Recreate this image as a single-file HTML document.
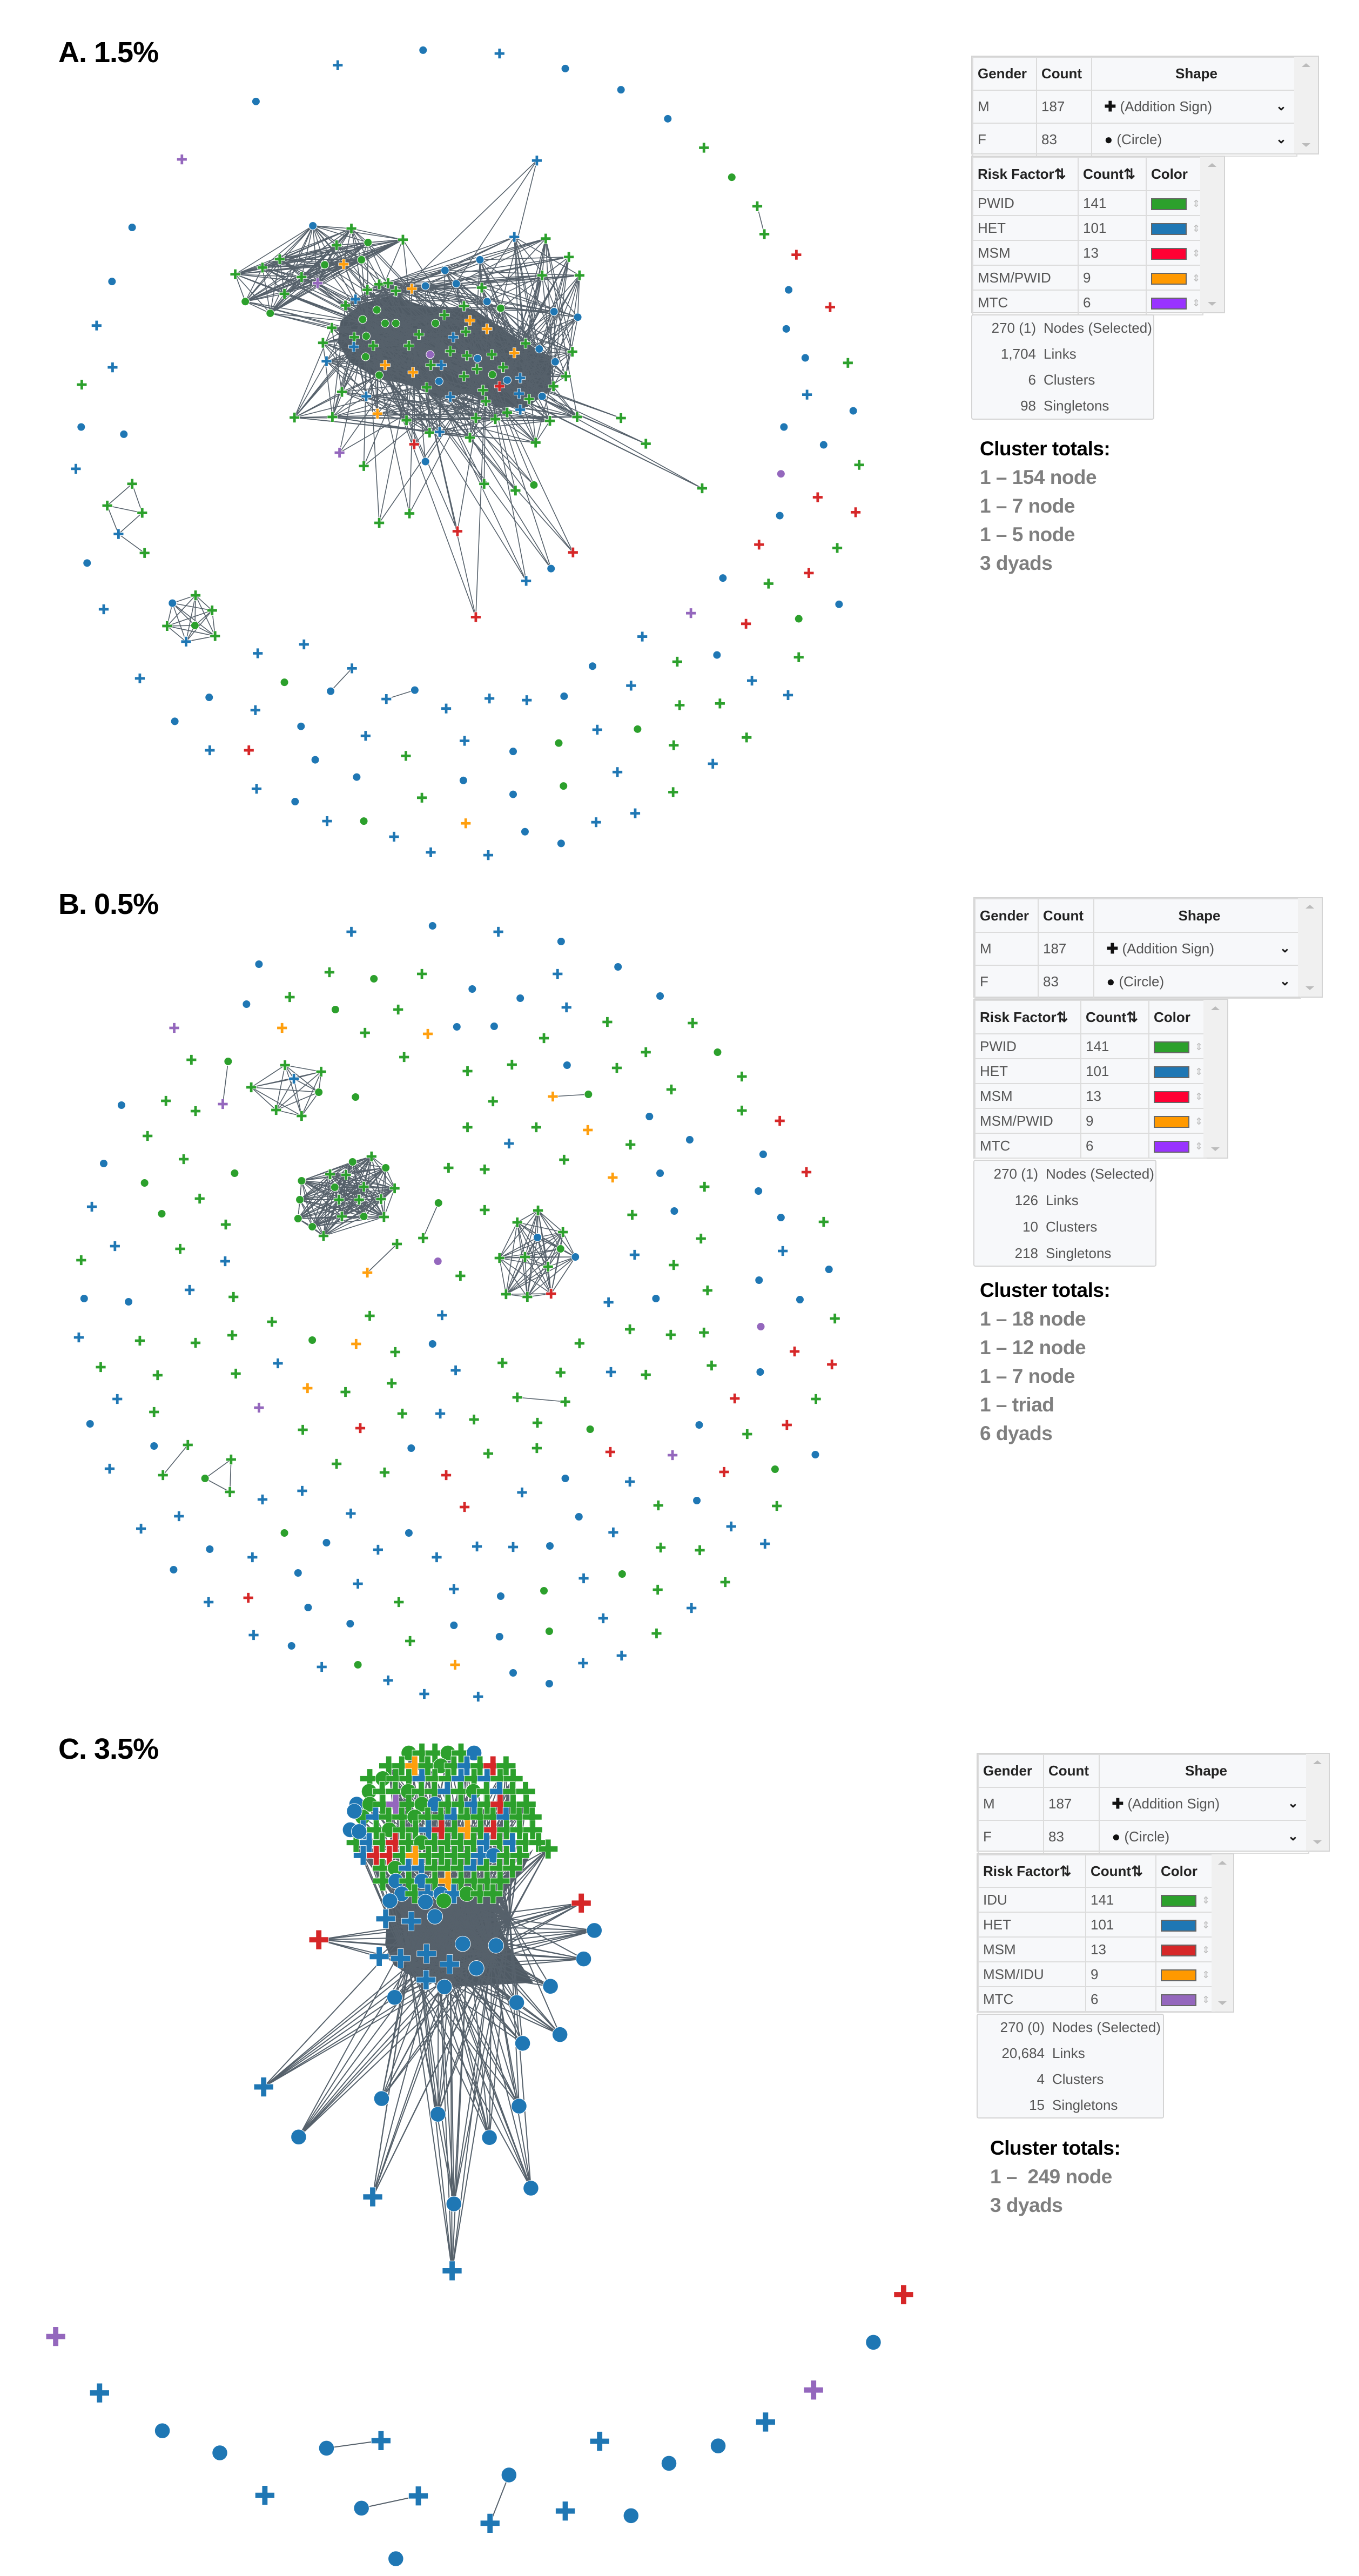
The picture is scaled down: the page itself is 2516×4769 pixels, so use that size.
<!DOCTYPE html>
<html><head><meta charset="utf-8"><title>HIV transmission network thresholds</title>
<style>
html,body{margin:0;padding:0;background:#fff;}
body{width:2516px;height:4769px;position:relative;overflow:hidden;font-family:"Liberation Sans",sans-serif;}
#net{position:absolute;left:0;top:0;}
.title{position:absolute;left:108px;font-weight:bold;font-size:54px;color:#000;letter-spacing:-1px;}
.box{position:absolute;background:#f7f8fa;border:2px solid #d4d4d4;box-sizing:border-box;}
.box table{border-collapse:collapse;table-layout:fixed;position:absolute;left:0;top:0;}
.box td,.box th{border:2px solid #dcdcdc;font-size:26px;color:#555;padding:0 0 0 8px;white-space:nowrap;overflow:hidden;text-align:left;}
.box th{color:#222;font-weight:bold;}
.scroll{position:absolute;right:0;top:0;bottom:0;background:#f0f0f0;}
.scroll .up,.scroll .dn{position:absolute;left:50%;margin-left:-8px;width:0;height:0;border-left:8px solid transparent;border-right:8px solid transparent;}
.scroll .up{top:12px;border-bottom:7px solid #bbb;}
.scroll .dn{bottom:12px;border-top:7px solid #bbb;}
.sw{display:inline-block;width:62px;height:18px;border:2px solid #666;vertical-align:middle;}
.arr{display:inline-block;color:#bbb;font-size:18px;margin-left:10px;vertical-align:middle;}
.chev{float:right;margin-right:18px;font-weight:bold;color:#111;font-size:24px;}
.stats{position:absolute;background:#f7f8fa;border:2px solid #d4d4d4;border-radius:4px;box-sizing:border-box;}
.srow{position:absolute;left:0;font-size:26px;color:#555;white-space:nowrap;}
.srow .n{position:absolute;text-align:right;width:118px;left:0;}
.srow .l{position:absolute;left:132px;}
.ct{position:absolute;font-weight:bold;font-size:37px;white-space:nowrap;letter-spacing:-0.5px;}
.ct .h{color:#000;}
.ct div{color:#7f7f7f;}
</style></head>
<body>
<svg id="net" width="2516" height="4769" viewBox="0 0 2516 4769"></svg>

<div class="title" style="top:66px">A. 1.5%</div>
<div class="title" style="top:1643px">B. 0.5%</div>
<div class="title" style="top:3207px">C. 3.5%</div>

<!-- Panel A legend -->
<div class="box" style="left:1798px;top:103px;width:644px;height:183px">
<table style="width:600px"><colgroup><col style="width:118px"><col style="width:102px"><col style="width:380px"></colgroup>
<tr style="height:61px"><th>Gender</th><th>Count</th><th style="text-align:center">Shape</th></tr>
<tr style="height:61px"><td>M</td><td>187</td><td>&nbsp;&nbsp;<b style="color:#111">✚</b> (Addition Sign)<span class="chev">⌄</span></td></tr>
<tr style="height:61px"><td>F</td><td>83</td><td>&nbsp;&nbsp;<b style="color:#111">●</b> (Circle)<span class="chev">⌄</span></td></tr>
</table><div class="scroll" style="width:44px"><div class="up"></div><div class="dn"></div></div></div>

<div class="box" style="left:1798px;top:288px;width:470px;height:292px">
<table style="width:426px"><colgroup><col style="width:195px"><col style="width:126px"><col style="width:105px"></colgroup>
<tr style="height:62px"><th>Risk Factor⇅</th><th>Count⇅</th><th>Color</th></tr>
<tr style="height:46px"><td>PWID</td><td>141</td><td><span class="sw" style="background:#2ca02c"></span><span class="arr">⇕</span></td></tr>
<tr style="height:46px"><td>HET</td><td>101</td><td><span class="sw" style="background:#1f77b4"></span><span class="arr">⇕</span></td></tr>
<tr style="height:46px"><td>MSM</td><td>13</td><td><span class="sw" style="background:#ff0033"></span><span class="arr">⇕</span></td></tr>
<tr style="height:46px"><td>MSM/PWID</td><td>9</td><td><span class="sw" style="background:#ff9900"></span><span class="arr">⇕</span></td></tr>
<tr style="height:46px"><td>MTC</td><td>6</td><td><span class="sw" style="background:#9933ff"></span><span class="arr">⇕</span></td></tr>
</table><div class="scroll" style="width:44px"><div class="up"></div><div class="dn"></div></div></div>

<div class="stats" style="left:1798px;top:582px;width:339px;height:195px">
<div class="srow" style="top:8px"><span class="n">270 (1)</span><span class="l">Nodes (Selected)</span></div>
<div class="srow" style="top:56px"><span class="n">1,704</span><span class="l">Links</span></div>
<div class="srow" style="top:104px"><span class="n">6</span><span class="l">Clusters</span></div>
<div class="srow" style="top:152px"><span class="n">98</span><span class="l">Singletons</span></div>
</div>
<div class="ct" style="left:1814px;top:804px;line-height:53px">
<span class="h">Cluster totals:</span><div>1 – 154 node</div><div>1 – 7 node</div><div>1 – 5 node</div><div>3 dyads</div></div>

<!-- Panel B legend -->
<div class="box" style="left:1802px;top:1661px;width:647px;height:186px">
<table style="width:603px"><colgroup><col style="width:117px"><col style="width:103px"><col style="width:383px"></colgroup>
<tr style="height:62px"><th>Gender</th><th>Count</th><th style="text-align:center">Shape</th></tr>
<tr style="height:61px"><td>M</td><td>187</td><td>&nbsp;&nbsp;<b style="color:#111">✚</b> (Addition Sign)<span class="chev">⌄</span></td></tr>
<tr style="height:61px"><td>F</td><td>83</td><td>&nbsp;&nbsp;<b style="color:#111">●</b> (Circle)<span class="chev">⌄</span></td></tr>
</table><div class="scroll" style="width:44px"><div class="up"></div><div class="dn"></div></div></div>

<div class="box" style="left:1802px;top:1849px;width:472px;height:296px">
<table style="width:428px"><colgroup><col style="width:196px"><col style="width:126px"><col style="width:106px"></colgroup>
<tr style="height:62px"><th>Risk Factor⇅</th><th>Count⇅</th><th>Color</th></tr>
<tr style="height:46px"><td>PWID</td><td>141</td><td><span class="sw" style="background:#2ca02c"></span><span class="arr">⇕</span></td></tr>
<tr style="height:46px"><td>HET</td><td>101</td><td><span class="sw" style="background:#1f77b4"></span><span class="arr">⇕</span></td></tr>
<tr style="height:46px"><td>MSM</td><td>13</td><td><span class="sw" style="background:#ff0033"></span><span class="arr">⇕</span></td></tr>
<tr style="height:46px"><td>MSM/PWID</td><td>9</td><td><span class="sw" style="background:#ff9900"></span><span class="arr">⇕</span></td></tr>
<tr style="height:46px"><td>MTC</td><td>6</td><td><span class="sw" style="background:#9933ff"></span><span class="arr">⇕</span></td></tr>
</table><div class="scroll" style="width:44px"><div class="up"></div><div class="dn"></div></div></div>

<div class="stats" style="left:1802px;top:2147px;width:339px;height:198px">
<div class="srow" style="top:9px"><span class="n">270 (1)</span><span class="l">Nodes (Selected)</span></div>
<div class="srow" style="top:58px"><span class="n">126</span><span class="l">Links</span></div>
<div class="srow" style="top:107px"><span class="n">10</span><span class="l">Clusters</span></div>
<div class="srow" style="top:156px"><span class="n">218</span><span class="l">Singletons</span></div>
</div>
<div class="ct" style="left:1814px;top:2362px;line-height:53px">
<span class="h">Cluster totals:</span><div>1 – 18 node</div><div>1 – 12 node</div><div>1 – 7 node</div><div>1 – triad</div><div>6 dyads</div></div>

<!-- Panel C legend -->
<div class="box" style="left:1808px;top:3245px;width:654px;height:183px">
<table style="width:612px"><colgroup><col style="width:121px"><col style="width:103px"><col style="width:388px"></colgroup>
<tr style="height:61px"><th>Gender</th><th>Count</th><th style="text-align:center">Shape</th></tr>
<tr style="height:61px"><td>M</td><td>187</td><td>&nbsp;&nbsp;<b style="color:#111">✚</b> (Addition Sign)<span class="chev">⌄</span></td></tr>
<tr style="height:61px"><td>F</td><td>83</td><td>&nbsp;&nbsp;<b style="color:#111">●</b> (Circle)<span class="chev">⌄</span></td></tr>
</table><div class="scroll" style="width:42px"><div class="up"></div><div class="dn"></div></div></div>

<div class="box" style="left:1808px;top:3431px;width:477px;height:295px">
<table style="width:437px"><colgroup><col style="width:199px"><col style="width:130px"><col style="width:108px"></colgroup>
<tr style="height:60px"><th>Risk Factor⇅</th><th>Count⇅</th><th>Color</th></tr>
<tr style="height:46px"><td>IDU</td><td>141</td><td><span class="sw" style="background:#2ca02c"></span><span class="arr">⇕</span></td></tr>
<tr style="height:46px"><td>HET</td><td>101</td><td><span class="sw" style="background:#1f77b4"></span><span class="arr">⇕</span></td></tr>
<tr style="height:46px"><td>MSM</td><td>13</td><td><span class="sw" style="background:#d62728"></span><span class="arr">⇕</span></td></tr>
<tr style="height:46px"><td>MSM/IDU</td><td>9</td><td><span class="sw" style="background:#ff9900"></span><span class="arr">⇕</span></td></tr>
<tr style="height:46px"><td>MTC</td><td>6</td><td><span class="sw" style="background:#9467bd"></span><span class="arr">⇕</span></td></tr>
</table><div class="scroll" style="width:40px"><div class="up"></div><div class="dn"></div></div></div>

<div class="stats" style="left:1808px;top:3728px;width:347px;height:194px">
<div class="srow" style="top:8px"><span class="n" style="width:124px">270 (0)</span><span class="l" style="left:138px">Nodes (Selected)</span></div>
<div class="srow" style="top:56px"><span class="n" style="width:124px">20,684</span><span class="l" style="left:138px">Links</span></div>
<div class="srow" style="top:104px"><span class="n" style="width:124px">4</span><span class="l" style="left:138px">Clusters</span></div>
<div class="srow" style="top:152px"><span class="n" style="width:124px">15</span><span class="l" style="left:138px">Singletons</span></div>
</div>
<div class="ct" style="left:1833px;top:3950px;line-height:53px">
<span class="h">Cluster totals:</span><div>1 –&nbsp; 249 node</div><div>3 dyads</div></div>

<script>
// ---- Network data (layout coords per panel; code = color letter + shape) ----
const singlesA = "bo714,90 bo954,123 bo1048,161 bo1127,213 bo432,182 bo223,408 bo189,505 bo137,766 bo209,779 bo147,1010 bo1331,520 bo1327,590 bo1359,642 bo1440,737 bo1323,766 bo1390,798 bo1316,925 bo1220,1037 bo1416,1084 bo1210,1175 bo1000,1195 bo952,1249 bo353,1251 bo295,1294 bo508,1303 bo532,1363 bo602,1394 bo498,1438 bo782,1400 bo866,1348 bo866,1425 bo886,1492 bo947,1513 b+570,117 b+843,96 b+163,584 b+190,659 b+128,841 b+175,1093 b+236,1217 b+435,1172 b+513,1156 b+431,1274 b+354,1346 b+433,1415 b+552,1473 b+665,1501 b+727,1529 b+824,1534 b+617,1320 b+753,1271 b+784,1329 b+826,1253 b+889,1256 b+1008,1309 b+1065,1230 b+1084,1142 b+1042,1385 b+1006,1475 b+1072,1459 b+1203,1370 b+1269,1221 b+1330,1247 b+1362,708 g+1188,265 g+1431,651 g+1450,834 g+1413,983 g+1297,1047 g+1348,1179 g+1143,1187 g+1147,1265 g+1215,1262 g+1260,1323 g+1137,1337 g+1136,1421 g+685,1356 g+712,1431 g+138,690 go1235,318 go1348,1110 go1076,1308 go943,1333 go951,1410 go614,1473 go480,1224 r+1344,457 r+1401,551 r+1380,892 r+1444,919 r+1281,977 r+1365,1028 r+1259,1119 r+420,1346 o+786,1477 p+307,286 p+1166,1100 po1318,850";
const dyadsA = ["g+1278,370 g+1290,420", "bo558,1240 b+594,1199", "b+652,1254 bo700,1238"];
const clusA5 = "g+223,868 g+181,907 g+240,920 b+200,958 g+244,992";
const clusA5Edges = [[0,1],[0,2],[1,2],[1,3],[2,3],[3,4]];
const clusA7 = "bo291,1082 g+330,1068 g+358,1095 g+282,1123 go329,1122 b+314,1151 g+363,1141";
const leftA = "g+397,492 g+443,480 g+472,465 go414,541 go456,562 g+480,527 g+509,497 p+536,508 go548,475 bo528,405 g+593,410 g+568,440 go621,435 go610,466 o+580,474 g+680,430";
const coreA = "b+600,537 g+583,548 g+620,520 g+640,510 g+655,508 g+668,522 o+695,518 bo718,513 bo751,485 bo770,509 bo810,466 g+813,516 bo822,541 go845,553 b+868,425 g+921,428 g+960,461 g+978,494 g+915,494 bo935,559 bo975,569 g+966,631 bo937,649 g+955,675 g+934,693 bo915,711 bo910,626 g+887,616 o+868,633 b+878,678 b+876,706 b+878,735 g+893,716 bo856,682 r+843,693 go831,672 g+849,659 g+830,636 bo806,643 g+788,638 g+805,662 g+783,675 o+822,590 o+793,575 g+783,549 b+765,605 g+786,595 g+760,630 b+745,655 g+727,655 po726,636 go735,580 g+750,565 g+707,600 g+690,620 go668,580 go650,580 go636,556 go612,573 go618,603 g+630,620 g+598,605 b+597,622 b+551,648 g+545,615 g+560,588 go617,640 o+650,655 go640,673 o+697,668 g+720,695 bo741,684 b+760,712 b+618,711 g+577,703 o+637,742 g+561,748 g+497,749 g+686,754 g+725,776 b+742,775 g+803,750 g+836,752 g+856,740 g+820,720 g+815,700 g+928,755 g+974,748 g+793,785 g+904,794";
const outA = "b+906,288 g+1048,750 g+1090,796 g+1185,876 p+573,812 g+614,836 r+699,797 bo718,828 g+640,938 g+691,921 r+772,953 r+803,1107 g+817,868 g+870,880 go901,870 r+967,991 bo930,1020 b+888,1042";
const hubsA = [[700,620],[820,660],[620,580]];
const massA = [[575,575],[610,545],[660,530],[720,550],[800,555],[870,605],[930,640],[930,700],[890,730],[840,730],[790,705],[740,715],[690,690],[640,680],[590,650],[570,615]];

const singlesB = "b+593,125 bo730,114 b+841,125 bo947,143 bo437,185 g+556,200 go631,212 g+712,203 b+941,203 bo1043,190 bo416,259 g+489,246 go566,269 g+672,269 bo797,231 bo878,248 b+956,265 bo1114,244 p+294,303 o+476,303 g+616,312 o+722,314 bo771,301 bo834,300 g+918,322 g+1025,292 g+1169,294 g+323,362 g+682,357 g+789,383 g+864,371 bo957,372 g+1041,377 g+1090,348 go1211,348 bo205,446 g+280,438 g+330,457 go600,431 g+832,439 g+1133,417 g+1252,393 g+249,503 g+789,487 g+905,487 o+992,492 b+859,517 g+1064,519 bo1096,467 bo1164,510 g+1252,456 r+1316,475 bo175,554 g+310,546 go396,572 g+757,562 g+818,565 g+952,547 o+1034,580 bo1114,572 bo1288,537 r+1361,570 go244,590 g+337,619 g+818,640 b+155,634 g+1189,597 bo1280,605 go273,647 g+381,667 g+1067,649 bo1138,642 bo1318,654 g+1390,662 b+194,707 g+304,712 g+1183,693 b+1321,716 g+137,733 b+380,735 po739,735 g+777,762 b+1071,723 g+1137,742 bo1399,750 bo142,804 bo217,810 b+320,788 g+394,801 bo1107,804 g+1194,789 b+1027,811 bo1281,770 bo1350,806 b+133,876 g+236,882 g+330,886 g+392,872 g+459,847 g+624,836 b+746,835 g+1063,861 g+1132,871 g+1188,867 po1284,856 g+1409,841 g+170,931 g+266,946 g+398,943 b+469,924 go527,881 o+601,888 g+667,903 bo730,888 b+769,937 g+848,923 g+978,887 g+946,941 b+1031,940 g+1090,945 g+1201,928 bo1283,940 r+1341,902 r+1404,926 b+198,990 g+260,1014 p+437,1006 o+519,970 g+583,977 g+661,961 r+1240,989 g+1377,990 bo152,1036 g+511,1047 r+608,1044 g+679,1017 b+743,1017 g+800,1028 g+907,1034 go996,1046 bo1180,1038 g+1261,1055 r+1328,1038 bo260,1077 b+185,1119 bo694,1081 g+824,1091 g+906,1081 r+1030,1088 p+1135,1094 bo1376,1093 b+443,1176 b+510,1160 g+568,1110 g+649,1126 r+753,1131 b+881,1163 bo954,1137 b+1063,1143 r+1222,1125 go1308,1120 b+238,1230 b+302,1207 go480,1238 b+592,1202 r+784,1190 bo977,1208 g+1111,1187 bo1176,1178 g+1311,1188 bo354,1268 b+426,1283 bo551,1256 b+638,1269 bo690,1238 b+737,1283 b+805,1263 b+866,1264 bo928,1262 b+1035,1237 g+1115,1265 g+1181,1270 b+1234,1226 b+1291,1258 bo293,1306 bo503,1312 b+604,1332 b+766,1342 bo845,1355 go918,1345 b+985,1322 go1050,1314 g+1110,1343 g+1224,1329 b+352,1366 r+419,1358 bo520,1376 g+673,1366 b+1167,1377 b+428,1427 bo591,1406 bo766,1409 bo843,1430 go927,1420 b+1018,1396 g+1108,1424 bo492,1447 g+692,1438 b+543,1486 go604,1482 o+768,1482 bo866,1497 bo927,1517 b+984,1479 b+1049,1465 b+655,1511 b+716,1536 b+807,1541";
const groupsB = [
  "g+424,413 g+481,372 b+496,397 g+542,384 go538,422 g+466,455 g+509,466",
  "go509,586 g+557,574 go595,551 g+627,541 go651,562 g+666,600 go565,598 g+614,597 g+584,575 g+572,621 g+606,621 g+643,620 go506,621 go503,656 go527,671 g+546,688 g+577,652 go614,652 g+648,653",
  "g+908,641 g+873,663 bo907,691 g+950,681 go946,712 bo971,727 g+843,729 g+886,727 g+925,745 g+854,796 g+890,801 r+930,795",
  "go346,1137 g+390,1102 g+388,1162",
  "go385,365 p+376,444", "o+933,430 go993,426", "go740,627 g+714,692",
  "g+670,703 o+620,756", "g+873,987 g+954,995", "g+317,1075 g+275,1131"
];

const blobRowsC = [
  "go g+ g+ go g+ bo",
  "g+ g+ o+ g+ go g+ b+ g+ r+ g+",
  "g+ go g+ g+ b+ g+ g+ b+ g+ b+ g+ g+",
  "go g+ g+ go g+ g+ b+ g+ go g+ b+ g+ g+",
  "bo go g+ p+ g+ go bo g+ g+ b+ g+ r+ g+ g+",
  "go b+ g+ g+ go g+ g+ b+ g+ g+ g+ b+ g+ g+",
  "bo b+ g+ go g+ g+ b+ r+ g+ o+ g+ r+ g+ g+ g+",
  "g+ b+ g+ r+ g+ go g+ g+ g+ g+ b+ g+ b+ g+ g+",
  "b+ r+ r+ g+ o+ g+ g+ g+ g+ b+ bo g+ g+",
  "g+ go b+ b+ g+ g+ g+ b+ g+ g+ g+",
  "g+ bo g+ bo g+ o+ g+ g+ g+ g+",
  "bo g+ b+ bo b+ go g+ g+"
];
const outC = "bo598,235 bo606,270 r+538,456 r+981,393 g+925,300 bo1003,440 bo985,489 bo929,536 bo872,564 bo945,619 bo882,634 bo876,742 bo826,796 bo896,883 bo766,910 b+763,1025 bo739,756 bo644,729 b+629,898 bo504,795 b+445,709 bo666,555 bo750,537 b+719,525 b+759,498 bo804,505 b+640,485 b+676,488 b+720,480 bo781,463 bo837,466 b+651,420 b+694,424 bo734,416 bo718,391 bo658,389 go749,389";
const hubsC = [[700,430],[740,470],[790,450],[830,480],[760,510],[690,500],[860,420]];
const massC = [[655,395],[700,378],[810,378],[870,330],[900,300],[880,340],[830,400],[860,470],[900,530],[760,537],[700,522],[665,500],[650,465]];
const singlesC = "p+94,1138 b+168,1235 bo274,1300 bo371,1338 b+447,1411 b+954,1438 bo1065,1446 b+1012,1318 bo1129,1356 bo1212,1326 b+1292,1285 p+1373,1230 bo1474,1148 r+1525,1066 bo668,1520";
const dyadsC = ["bo551,1330 b+643,1317", "bo610,1433 b+706,1412", "bo859,1376 b+827,1459"];

// ---- rendering ----
const NS = 'http://www.w3.org/2000/svg';
const svg = document.getElementById('net');
const COL = {g:'#2ca02c', b:'#1f77b4', r:'#d62728', o:'#ff9f0e', p:'#9467bd'};
const RISK = {g:'pwid', b:'het', r:'msm', o:'msm-pwid', p:'mtc'};
const PA = {id:'a', fy:1.032, oy:0, s:1};
const PB = {id:'b', fy:1.0, oy:1600, s:1};
const PC = {id:'c', fy:1.077, oy:3100, s:1.9};

function parse(str){
  return str.trim().split(/\s+/).map(t => {
    const xy = t.slice(2).split(',').map(Number);
    return {c:t[0], sh:t[1], x:xy[0], y:xy[1]};
  });
}
function X(p, x){ return x * 1.097; }
function Y(p, y){ return y * p.fy + p.oy; }

function mkLayer(name){
  const g = document.createElementNS(NS, 'g');
  
  
  svg.appendChild(g);
  return g;
}
const edgeLayer = mkLayer('edge-layer');
const nodeLayer = mkLayer('node-layer');

function edge(p, a, b){
  const l = document.createElementNS(NS, 'line');
  l.setAttribute('x1', X(p, a[0])); l.setAttribute('y1', Y(p, a[1]));
  l.setAttribute('x2', X(p, b[0])); l.setAttribute('y2', Y(p, b[1]));
  l.setAttribute('stroke', '#56616b');
  l.setAttribute('stroke-width', p.s > 1 ? 2 : 1.6);
  
  
  edgeLayer.appendChild(l);
}
function mass(p, pts){
  const pg = document.createElementNS(NS, 'polygon');
  pg.setAttribute('points', pts.map(q => X(p,q[0]) + ',' + Y(p,q[1])).join(' '));
  pg.setAttribute('fill', '#4f5a64');
  
  
  edgeLayer.appendChild(pg);
}
function node(p, n){
  const cx = X(p, n.x), cy = Y(p, n.y), s = p.s, col = COL[n.c];
  let el;
  if (n.sh === 'o'){
    el = document.createElementNS(NS, 'circle');
    el.setAttribute('cx', cx); el.setAttribute('cy', cy);
    el.setAttribute('r', 7.5 * s);
    el.setAttribute('fill', col);
    el.setAttribute('stroke', '#fff');
    el.setAttribute('stroke-width', 1);
  } else {
    el = document.createElementNS(NS, 'path');
    const a = 9.5 * s, t = 2.8 * s;
    el.setAttribute('d', `M${cx-a},${cy-t}H${cx-t}V${cy-a}H${cx+t}V${cy-t}H${cx+a}V${cy+t}H${cx+t}V${cy+a}H${cx-t}V${cy+t}H${cx-a}Z`);
    el.setAttribute('fill', col);
    el.setAttribute('stroke', '#fff');
    el.setAttribute('stroke-width', 0.8);
  }
  
  
  nodeLayer.appendChild(el);
}
function clique(p, list){
  for (let i = 0; i < list.length; i++)
    for (let j = i + 1; j < list.length; j++) edge(p, [list[i].x, list[i].y], [list[j].x, list[j].y]);
}
function toHubs(p, list, hubs){
  list.forEach(n => hubs.forEach(h => edge(p, [n.x, n.y], h)));
}

// Panel A
mass(PA, massA);
const cA = parse(coreA), lA = parse(leftA), oA = parse(outA), a5 = parse(clusA5), a7 = parse(clusA7);
for (let i = 0; i < cA.length; i++)
  for (let k = 1; k <= 6; k++){ const j = (i + k * 3) % cA.length; edge(PA, [cA[i].x, cA[i].y], [cA[j].x, cA[j].y]); }
clique(PA, lA); toHubs(PA, lA, hubsA); toHubs(PA, oA, hubsA);
clusA5Edges.forEach(e => edge(PA, [a5[e[0]].x, a5[e[0]].y], [a5[e[1]].x, a5[e[1]].y]));
clique(PA, a7);
dyadsA.forEach(d => clique(PA, parse(d)));
[parse(singlesA), cA, lA, oA, a5, a7].forEach(l => l.forEach(n => node(PA, n)));
dyadsA.forEach(d => parse(d).forEach(n => node(PA, n)));

// Panel B
groupsB.forEach(gs => clique(PB, parse(gs)));
parse(singlesB).forEach(n => node(PB, n));
groupsB.forEach(gs => parse(gs).forEach(n => node(PB, n)));

// Panel C
mass(PC, massC);
const blobC = [];
blobRowsC.forEach((row, r) => {
  const codes = row.trim().split(/\s+/);
  const y = 135 + r * 22;
  const shift = (r % 2) ? 5 : -5;
  codes.forEach((c, i) => blobC.push({c:c[0], sh:c[1], x:750 + shift - (codes.length - 1) * 11 + i * 22, y:y}));
});
const oC = parse(outC);
toHubs(PC, oC, hubsC);
for (let i = 0; i < blobC.length; i += 3) hubsC.forEach(h => edge(PC, [blobC[i].x, blobC[i].y], h));
dyadsC.forEach(d => clique(PC, parse(d)));
blobC.forEach(n => node(PC, n));
oC.forEach(n => node(PC, n));
parse(singlesC).forEach(n => node(PC, n));
dyadsC.forEach(d => parse(d).forEach(n => node(PC, n)));
</script>
</body></html>
